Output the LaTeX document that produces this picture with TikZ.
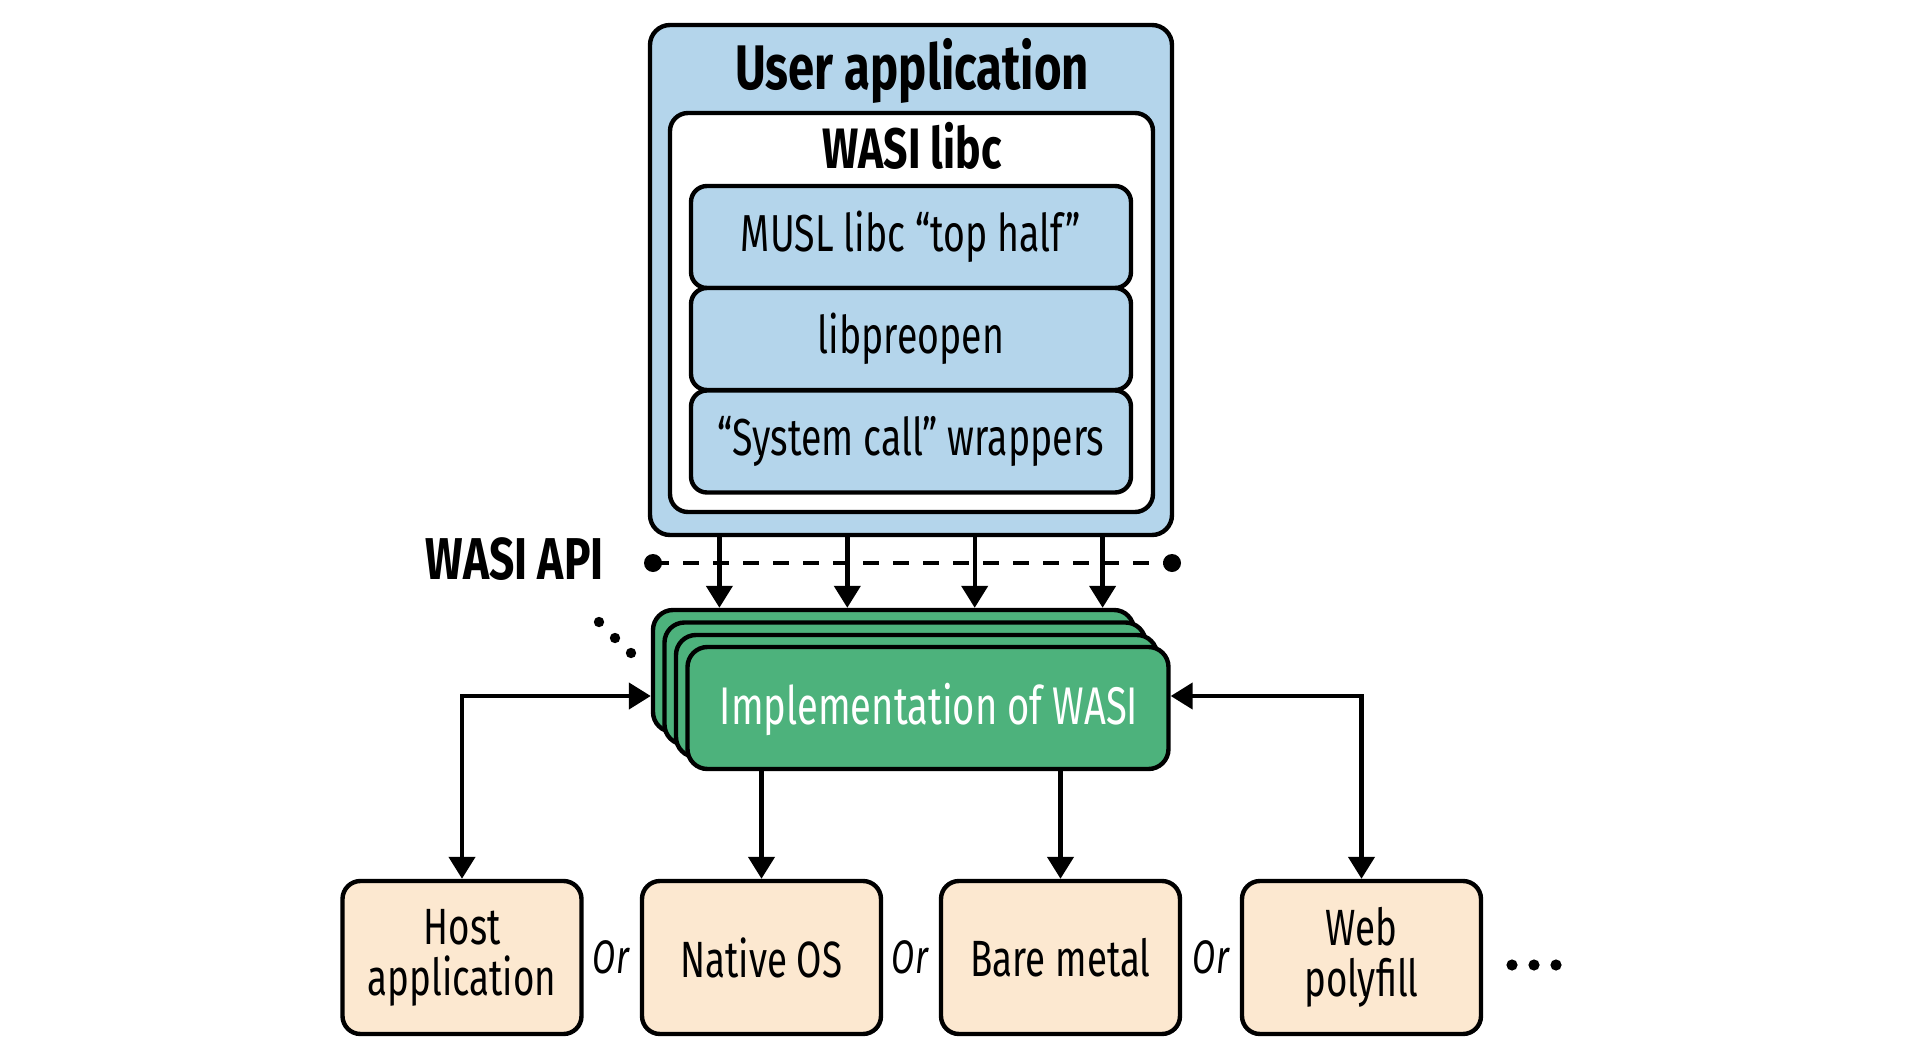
\documentclass[tikz,border=0pt]{standalone}
\usepackage{fontspec}
\setmainfont{Fira Sans}[FakeStretch=0.72, BoldFeatures={FakeStretch=0.75}]
\usetikzlibrary{arrows.meta,calc}
\definecolor{ublue}{RGB}{180,213,235}
\definecolor{igreen}{RGB}{77,178,124}
\definecolor{peach}{RGB}{252,232,208}
\begin{document}
\begin{tikzpicture}[x=0.5pt,y=-0.5pt,
  box/.style={draw=black, line width=2.2pt, inner sep=0pt, anchor=center, align=center},
  bluebox/.style={box, fill=ublue, rounded corners=8pt, minimum width=220pt, minimum height=51pt, font=\fontsize{26}{28}\selectfont},
  greenbox/.style={box, fill=igreen, rounded corners=10pt, minimum width=240.5pt, minimum height=61pt},
  targetbox/.style={box, fill=peach, rounded corners=9pt, minimum width=119.5pt, minimum height=76.5pt, font=\fontsize{25.5}{25.5}\selectfont},
  tip/.tip={Triangle[width=13pt,length=11pt]},
  arr/.style={line width=2.2pt, -tip},
  arrboth/.style={line width=2.2pt, tip-tip},
  ortext/.style={font=\fontsize{23.5}{25}\selectfont\itshape, inner sep=0pt},
  boldlabel/.style={inner sep=0pt, anchor=base, font=\fontsize{#1}{#1}\selectfont\bfseries}
]
\useasboundingbox (0,0) rectangle (1924,1060);

% User application
\node[box, fill=ublue, rounded corners=10pt, minimum width=261pt, minimum height=255pt] (ua) at (911,280) {};
\node[boldlabel=31.5] (uatext) at (912,90) {User application};
\node[box, fill=white, rounded corners=9pt, minimum width=241.5pt, minimum height=199.5pt] (libc) at (911.5,312.5) {};
\node[boldlabel=28.5] (libctext) at (912,168) {WASI libc};
\node[bluebox] (musl) at (911,237) {MUSL libc “top half”};
\node[bluebox] (pre) at (911,339) {libpreopen};
\node[bluebox] (sys) at (911,441.5) {“System call” wrappers};

% WASI API
\node[boldlabel=29.5, anchor=base east] (api) at (604,579) {WASI API};
\coordinate (dl) at (653,563);
\coordinate (dr) at (1172,563);
\draw[line width=2.2pt, dash pattern=on 8pt off 7pt] (dl) -- (dr);
\fill (dl) circle (4.5pt);
\fill (dr) circle (4.5pt);

% Implementation stack
\node[greenbox] (impl3) at (893.5,671) {};
\node[greenbox] (impl2) at (905,683.5) {};
\node[greenbox] (impl1) at (916.5,696) {};
\node[greenbox] (impl) at (928,708) {};
\node[inner sep=0pt, anchor=base, text=white, font=\fontsize{26.5}{28}\selectfont] (impltext) at (929,724) {Implementation of WASI};
\fill (599,622) circle (2.6pt) (615,638) circle (2.6pt) (631,653) circle (2.6pt);

% arrows from user app
\foreach \f [count=\i] in {0.136,0.379,0.621,0.864}{
  \coordinate (t\i) at ($(ua.south west)!\f!(ua.south east)$);
  \draw[arr] (t\i) -- (t\i |- impl3.north);
}

% targets
\node[targetbox] (host) at (462,957.5) {Host\\application};
\node[targetbox] (native) at (761.5,957.5) {Native OS};
\node[targetbox] (bare) at (1060.5,957.5) {Bare metal};
\node[targetbox] (web) at (1361.5,957.5) {Web\\polyfill};
\node[ortext] (or1) at (611,957) {Or};
\node[ortext] (or2) at (910,957) {Or};
\node[ortext] (or3) at (1211,957) {Or};
\fill (1512,965) circle (2.8pt) (1534,965) circle (2.8pt) (1556,965) circle (2.8pt);

\draw[arrboth] (host.north) |- (impl3.west |- impl1.center);
\draw[arrboth] (web.north) |- (impl.east |- impl1.center);
\draw[arr] (native.north |- impl.south) -- (native.north);
\draw[arr] (bare.north |- impl.south) -- (bare.north);
\end{tikzpicture}
\end{document}
